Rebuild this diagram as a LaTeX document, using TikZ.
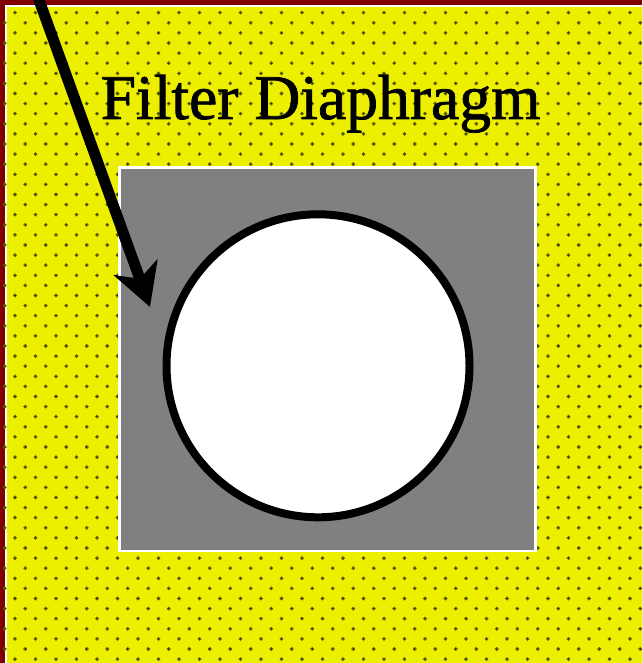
\documentclass[tikz,border=0pt]{standalone}
\usepackage{fontspec}
\setmainfont{Liberation Serif}
\newfontfamily\lblfont[FakeBold=1.2]{Liberation Serif}
\usetikzlibrary{arrows.meta}
\definecolor{bordred}{RGB}{128,0,0}
\definecolor{bgyellow}{RGB}{236,240,0}
\definecolor{dotcol}{RGB}{10,10,0}
\definecolor{dothalo}{RGB}{100,104,0}
\definecolor{plategray}{RGB}{128,128,128}
\tikzset{
  dotmark/.style={fill=dotcol, draw=dothalo, line width=0.9pt},
  plate/.style={fill=plategray, draw=white, line width=2.6pt},
  lens/.style={fill=white, draw=black, line width=8pt},
  pointer/.style={line width=11pt, draw=black, -{Stealth[length=42pt, width=46pt, inset=12pt]}},
  label/.style={anchor=base west, inner sep=0pt, font=\lblfont\fontsize{63.6}{64}\selectfont}
}
\begin{document}
\begin{tikzpicture}[x=1pt, y=-1pt]
\useasboundingbox (0,0) rectangle (642,663);
\begin{scope}
\clip (0,0) rectangle (642,663);
% frame
\fill[bordred] (0,0) rectangle (650,670);
\fill[white] (5,5) rectangle (650,670);
\fill[bgyellow] (7.3,7.3) rectangle (650,670);
% dot pattern (checkerboard lattice)
\foreach \j in {0,...,65}{
  \pgfmathsetmacro{\yy}{12.7+10.1*\j}
  \pgfmathsetmacro{\xo}{mod(\j,2)==0 ? 15 : 4.75}
  \foreach \i in {0,...,31}{
    \filldraw[dotmark] ({\xo+20.5*\i},\yy) circle (1.4pt);
  }
}
% plate
\node[plate, minimum width=416pt, minimum height=383.5pt, inner sep=0pt, anchor=north west] (plate) at (118,166.2) {};
% lens
\node[lens, circle, minimum size=303pt, inner sep=0pt] (lens) at (318,365.8) {};
% label
\node[label] (lbl) at (100.5,119) {Filter Diaphragm};
% arrow
\coordinate (from) at (35.4,-10);
\coordinate (tip) at (150,307);
\draw[pointer] (from) -- (tip);
\end{scope}
\end{tikzpicture}
\end{document}
